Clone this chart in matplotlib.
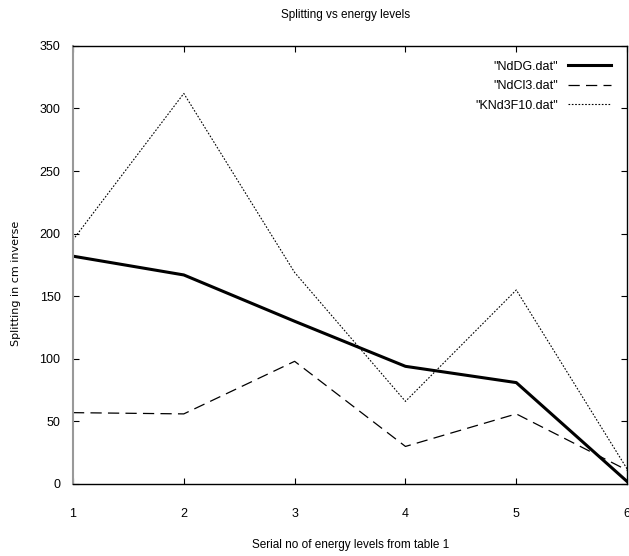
import matplotlib.pyplot as plt

# Serial numbers and splitting values
levels = [1, 2, 3, 4, 5, 6]
nddg = [182, 167, 130, 94, 81, 2]
ndcl3 = [57, 56, 98, 30, 56, 11]
knd3f10 = [195, 312, 169, 66, 155, 12]

y_ticks = [0, 50, 100, 150, 200, 250, 300, 350]

plt.rcParams['font.family'] = ['Liberation Sans', 'DejaVu Sans']

fig = plt.figure(figsize=(6.29, 5.56), dpi=100)
ax = fig.add_axes([0.116, 0.1295, 0.881, 0.788])

ax.plot(levels, nddg, color='black', linewidth=2.2, label='"NdDG.dat"')
ax.plot(levels, ndcl3, color='black', linewidth=0.9, dashes=(9, 5), label='"NdCl3.dat"')
ax.plot(levels, knd3f10, color='black', linewidth=0.8, dashes=(1.5, 1.5), label='"KNd3F10.dat"')

ax.set_xlim(1, 6)
ax.set_ylim(0, 350)
ax.set_xticks(levels)
ax.set_yticks(y_ticks)
ax.tick_params(direction='in', length=4, width=0.8, labelsize=9,
               top=True, right=True, pad=9)
ax.tick_params(axis='x', pad=17)

for side in ['top', 'right', 'bottom']:
    ax.spines[side].set_color('black')
    ax.spines[side].set_linewidth(1.0)
ax.spines['left'].set_color('#999999')
ax.spines['left'].set_linewidth(1.5)

fig.text(0.55, 0.973, 'Splitting vs energy levels', fontsize=8.5, ha='center', va='center')
fig.text(0.558, 0.02, 'Serial no of energy levels from table 1', fontsize=8.5,
         ha='center', va='center')
fig.text(0.025, 0.49, 'Splitting in cm inverse', fontsize=8, rotation=90,
         ha='center', va='center', family=['DejaVu Sans'])

ax.legend(loc='upper right', frameon=False, markerfirst=False, fontsize=9,
          handlelength=3.4, labelspacing=0.6, borderaxespad=0.6,
          bbox_to_anchor=(0.993, 0.995))

fig.savefig('out.png', dpi=100)
